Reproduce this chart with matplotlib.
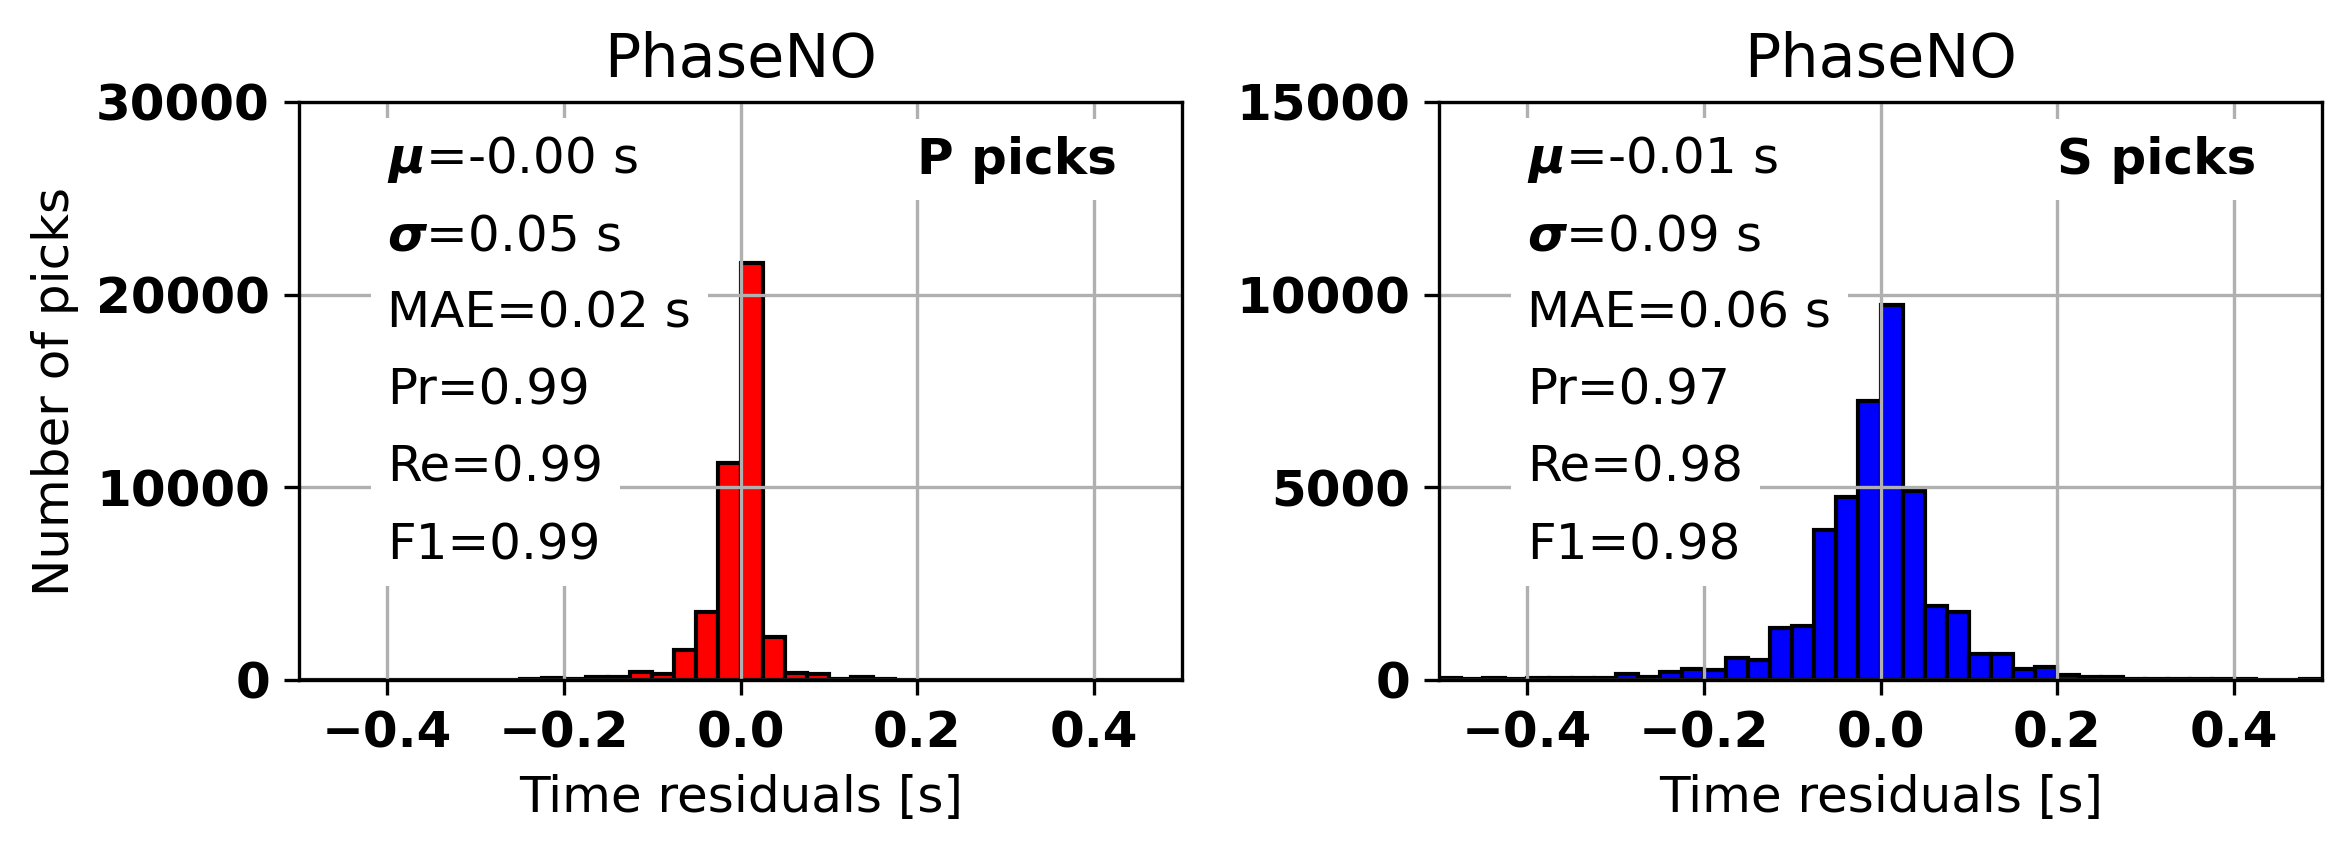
#!/usr/bin/env python3
"""Residual histograms of PhaseNO P and S picks."""

import matplotlib
matplotlib.use("Agg")
import matplotlib.pyplot as plt
import numpy as np


# bin edges: 40 bins of 0.025 s between -0.5 and 0.5 s
BIN_LOW = -0.5
BIN_HIGH = 0.5
N_BINS = 40

P_COUNTS = [3, 3, 3, 3, 3, 5, 5, 10, 15, 20,
            35, 90, 60, 140, 140, 400, 320, 1550, 3550, 11250,
            21650, 2250, 350, 300, 70, 140, 35, 15, 10, 5,
            5, 5, 3, 3, 3, 3, 3, 3, 3, 3]
S_COUNTS = [40, 15, 40, 20, 50, 50, 50, 50, 165, 86,
            215, 285, 250, 570, 525, 1360, 1410, 3900, 4750, 7250,
            9720, 4900, 1920, 1760, 680, 680, 295, 330, 120, 80,
            80, 35, 30, 25, 20, 15, 15, 12, 5, 15]

P_STATS = ["-0.00 s", "0.05 s", "0.02 s", "0.99", "0.99", "0.99"]
S_STATS = ["-0.01 s", "0.09 s", "0.06 s", "0.97", "0.98", "0.98"]
STAT_NAMES = [r"$\mathbfit{\mu}$", r"$\mathbfit{\sigma}$", "MAE", "Pr", "Re", "F1"]

P_YTICKS = [0, 10000, 20000, 30000]
S_YTICKS = [0, 5000, 10000, 15000]
XTICKS = [-0.4, -0.2, 0.0, 0.2, 0.4]


def draw_panel(ax, counts, color, stats, phase_label, yticks):
    edges = np.linspace(BIN_LOW, BIN_HIGH, N_BINS + 1)
    centers = 0.5 * (edges[:-1] + edges[1:])
    ax.hist(centers, bins=edges, weights=counts, color=color,
            edgecolor="black", linewidth=1.0)

    ax.set_xlim(BIN_LOW, BIN_HIGH)
    ax.set_ylim(yticks[0], yticks[-1])
    ax.set_xticks(XTICKS)
    ax.set_yticks(yticks)
    for lab in ax.get_xticklabels() + ax.get_yticklabels():
        lab.set_fontweight("bold")
    ax.tick_params(labelsize=12)
    ax.grid(True)
    ax.set_title("PhaseNO", fontsize=14.5)
    ax.set_xlabel("Time residuals [s]", fontsize=12)

    trans = ax.get_xaxis_transform()
    box = dict(facecolor="white", edgecolor="none")
    for i, (name, value) in enumerate(zip(STAT_NAMES, stats)):
        ax.text(-0.4, 0.9 - i * 0.1333, f"{name}={value}", transform=trans,
                fontsize=12, ha="left", va="center", bbox=box)
    ax.text(0.2, 0.9, phase_label, transform=trans, fontsize=12,
            fontweight="bold", ha="left", va="center", bbox=box)


def main():
    fig, (ax_p, ax_s) = plt.subplots(1, 2, figsize=(2351 / 300, 852 / 300), dpi=300)
    fig.subplots_adjust(left=0.1272, right=0.9877, top=0.8803, bottom=0.2019, wspace=0.291)

    draw_panel(ax_p, P_COUNTS, "red", P_STATS, "P picks", P_YTICKS)
    draw_panel(ax_s, S_COUNTS, "blue", S_STATS, "S picks", S_YTICKS)
    ax_p.set_ylabel("Number of picks", fontsize=12)

    fig.savefig("out.png", dpi=300)
    plt.close(fig)


if __name__ == "__main__":
    main()
